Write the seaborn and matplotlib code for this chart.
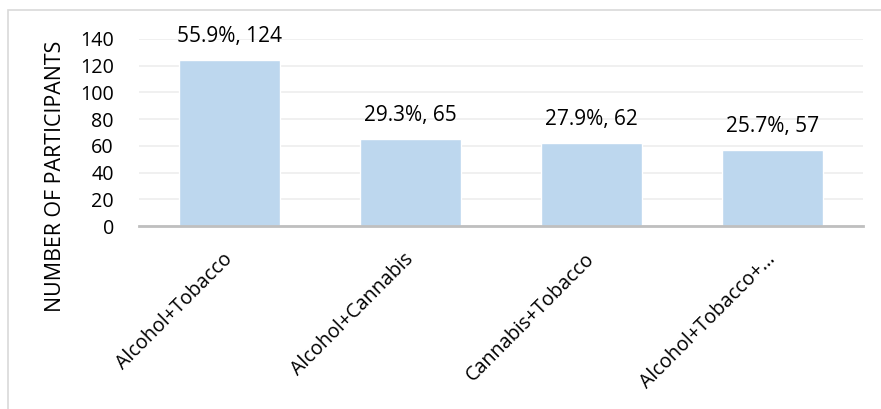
import matplotlib
matplotlib.use("Agg")
import matplotlib.pyplot as plt
import seaborn as sns
import pandas as pd
from matplotlib.patches import Rectangle

categories = ["Alcohol+Tobacco", "Alcohol+Cannabis", "Cannabis+Tobacco", "Alcohol+Tobacco+…"]
counts = [124, 65, 62, 57]
percents = ["55.9%", "29.3%", "27.9%", "25.7%"]
yticks = [0, 20, 40, 60, 80, 100, 120, 140]

sns.set_theme(style="white")
plt.rcParams['font.family'] = ['Open Sans', 'DejaVu Sans']

W, H = 881, 409
fig = plt.figure(figsize=(W/100, H/100), dpi=100)
ax = fig.add_axes([139/W, 1-226/H, (863-139)/W, (226-39)/H])

df = pd.DataFrame({"cat": categories, "n": counts})
sns.barplot(data=df, x="cat", y="n", color="#bdd7ee", saturation=1, width=0.553, ax=ax)

ax.set_ylim(0, 140)
ax.set_yticks(yticks)
ax.set_yticklabels([str(v) for v in yticks], fontsize=14.2, color="black")
ax.yaxis.grid(True, color="#ededed", linewidth=1.2)
ax.set_axisbelow(True)
for s in ["top", "right", "left"]:
    ax.spines[s].set_visible(False)
ax.spines["bottom"].set_color("#bfbfbf")
ax.spines["bottom"].set_linewidth(2)
ax.tick_params(axis="y", length=0, pad=18)
ax.tick_params(axis="x", length=0, pad=22)
ax.set_xlabel("")
ax.set_ylabel("")
for lab in ax.get_xticklabels():
    lab.set_rotation(45)
    lab.set_ha("right")
    lab.set_va("center")
    lab.set_rotation_mode("anchor")
    lab.set_fontsize(14.2)
    lab.set_color("black")

for i, (p, n) in enumerate(zip(percents, counts)):
    ax.annotate(f"{p}, {n}", (i, n), xytext=(0, 17), textcoords="offset points",
                ha="center", va="center", fontsize=15, color="black", annotation_clip=False)

fig.text(56/W, 1-176/H, "NUMBER OF PARTICIPANTS", rotation=90, ha="center", va="center",
         fontsize=15.4, color="black")

fig.patches.append(Rectangle((8/W, -0.05), 1.0, 1-10/H+0.05, transform=fig.transFigure,
                             fill=False, edgecolor="#d9d9d9", linewidth=1.2))

fig.savefig("out.png", dpi=100, facecolor="white")
